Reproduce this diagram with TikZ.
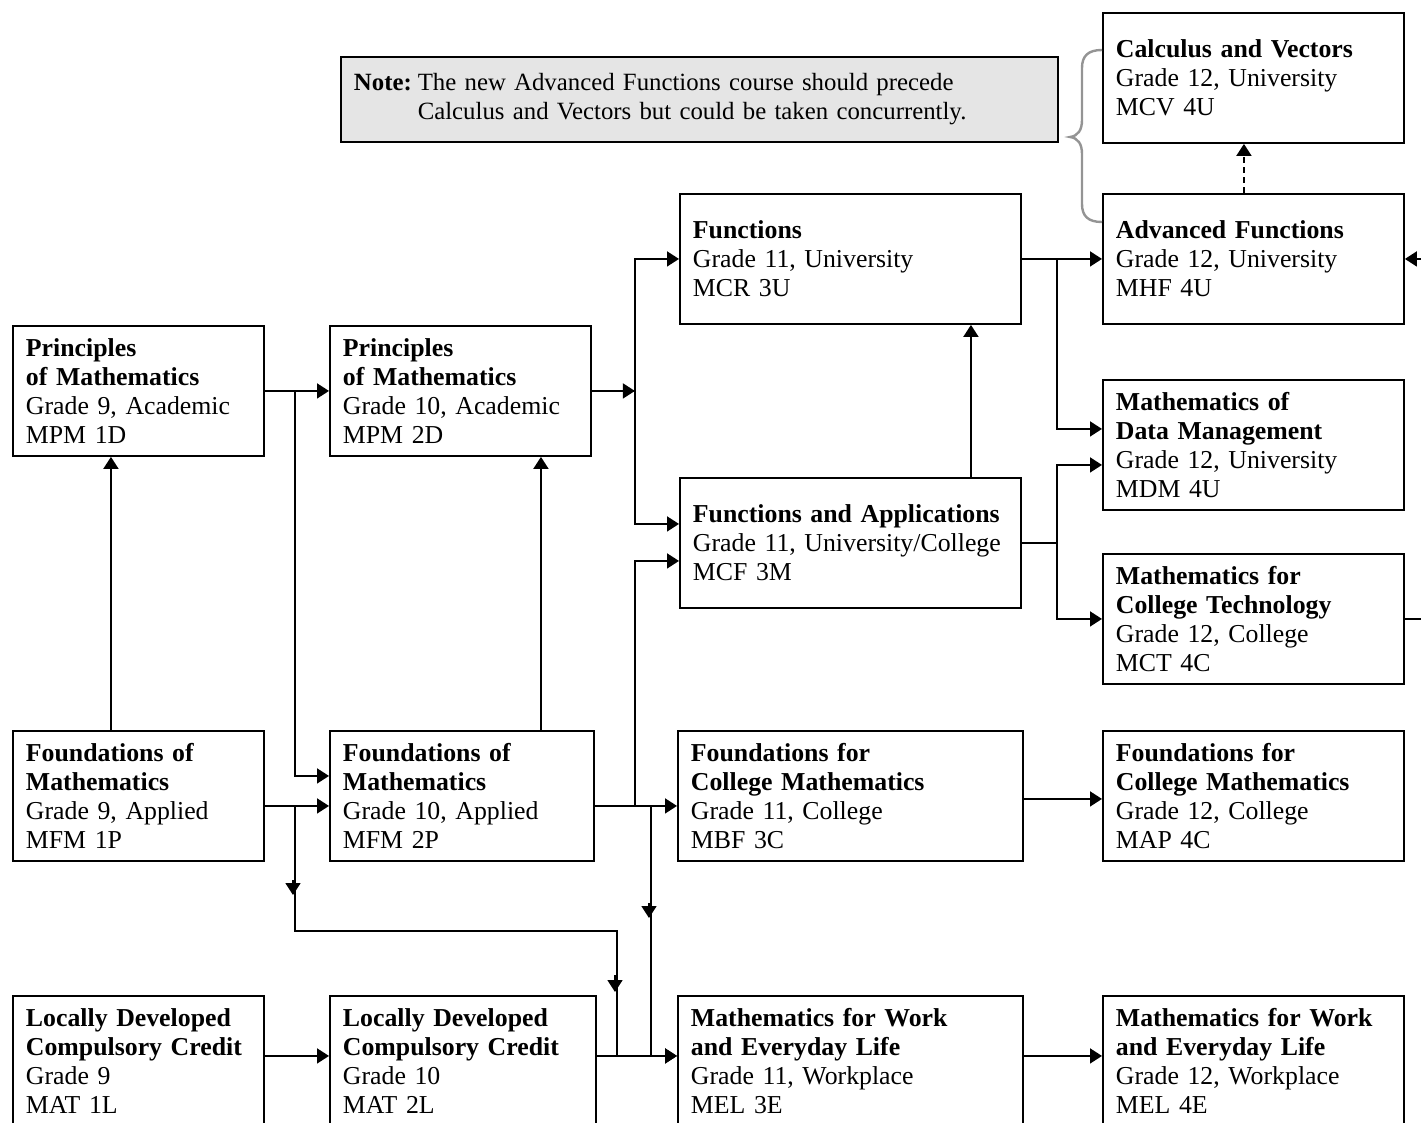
\documentclass[tikz,border=0pt]{standalone}
\usepackage{fontspec}
\setmainfont[WordSpace=0.8]{Liberation Serif}
\usetikzlibrary{arrows.meta,calc}
\begin{document}
\begin{tikzpicture}[x=0.5pt,y=-0.5pt,
  course/.style={draw, line width=0.95pt, anchor=north west, align=left,
    inner xsep=6.5pt, inner ysep=0pt, minimum height=65pt, text width=#1,
    font=\fontsize{12.9}{14.5}\selectfont},
  ln/.style={line width=0.85pt},
  arr/.style={line width=0.85pt, -{Triangle[length=6pt,width=7.5pt]}},
  bracestyle/.style={draw=black!42, line width=1.2pt}]
\useasboundingbox (0,0) rectangle (1421,1123);
\clip (0,0) rectangle (1421,1123);

% note
\node[draw, line width=0.95pt, fill=black!10, anchor=north west, minimum width=358.5pt,
  minimum height=42.5pt, inner xsep=6.5pt, align=left, text width=345.5pt,
  font=\fontsize{12.4}{14.5}\selectfont] (note) at (340,56)
  {\begin{tabular}{@{}l@{\hspace{3pt}}l@{}}\textbf{Note:} & The new Advanced Functions course should precede\\
   & Calculus and Vectors but could be taken concurrently.\end{tabular}};

% courses
\node[course=112.5pt] (mpm1d) at (12,325) {\textbf{Principles}\\\textbf{of Mathematics}\\Grade 9, Academic\\MPM 1D};
\node[course=117.5pt] (mpm2d) at (329,325) {\textbf{Principles}\\\textbf{of Mathematics}\\Grade 10, Academic\\MPM 2D};
\node[course=157.5pt] (mcr3u) at (679,193) {\textbf{Functions}\\Grade 11, University\\MCR 3U};
\node[course=157.5pt] (mcf3m) at (679,477) {\textbf{Functions and Applications}\\Grade 11, University/College\\MCF 3M};
\node[course=137.5pt] (mcv4u) at (1102,12) {\textbf{Calculus and Vectors}\\Grade 12, University\\MCV 4U};
\node[course=137.5pt] (mhf4u) at (1102,193) {\textbf{Advanced Functions}\\Grade 12, University\\MHF 4U};
\node[course=137.5pt] (mdm4u) at (1102,379) {\textbf{Mathematics of}\\\textbf{Data Management}\\Grade 12, University\\MDM 4U};
\node[course=137.5pt] (mct4c) at (1102,553) {\textbf{Mathematics for}\\\textbf{College Technology}\\Grade 12, College\\MCT 4C};
\node[course=112.5pt] (mfm1p) at (12,730) {\textbf{Foundations of}\\\textbf{Mathematics}\\Grade 9, Applied\\MFM 1P};
\node[course=119pt] (mfm2p) at (329,730) {\textbf{Foundations of}\\\textbf{Mathematics}\\Grade 10, Applied\\MFM 2P};
\node[course=159.5pt] (mbf3c) at (677,730) {\textbf{Foundations for}\\\textbf{College Mathematics}\\Grade 11, College\\MBF 3C};
\node[course=137.5pt] (map4c) at (1102,730) {\textbf{Foundations for}\\\textbf{College Mathematics}\\Grade 12, College\\MAP 4C};
\node[course=112.5pt] (mat1l) at (12,995) {\textbf{Locally Developed}\\\textbf{Compulsory Credit}\\Grade 9\\MAT 1L};
\node[course=120pt] (mat2l) at (329,995) {\textbf{Locally Developed}\\\textbf{Compulsory Credit}\\Grade 10\\MAT 2L};
\node[course=159.5pt] (mel3e) at (677,995) {\textbf{Mathematics for Work}\\\textbf{and Everyday Life}\\Grade 11, Workplace\\MEL 3E};
\node[course=137.5pt] (mel4e) at (1102,995) {\textbf{Mathematics for Work}\\\textbf{and Everyday Life}\\Grade 12, Workplace\\MEL 4E};

% brace
\draw[bracestyle] (1102,50) .. controls (1088,50) and (1082,56) .. (1082,68) -- (1082,120)
  .. controls (1082,130) and (1078,136) .. (1070,137)
  .. controls (1078,138) and (1082,144) .. (1082,154) -- (1082,204)
  .. controls (1082,216) and (1088,222) .. (1102,222);

% connectors
\draw[arr] (mpm1d.east) -- (mpm2d.west);
\draw[arr] (mpm1d.east) -- ++(30,0) |- ([yshift=10pt]mfm2p.west);
\draw[arr] ([yshift=-5pt]mfm1p.east) -- ([yshift=-5pt]mfm2p.west);
\draw[ln] ([yshift=-5pt]mfm1p.east) -- ++(30,0) -- ++(0,125) -| ([xshift=10pt,yshift=2.5pt]mat2l.east);
\draw[arr] (293,880) -- (293,895);
\draw[arr] (615,975) -- (615,992);

\draw[arr] ([yshift=-5pt]mfm2p.east) -- ([yshift=-5pt]mbf3c.west);
\draw[arr] ([yshift=-5pt]mfm2p.east) -- ++(40,0) |- ([yshift=-9pt]mcf3m.west);
\draw[arr] ([yshift=-5pt]mfm2p.east) -- ++(56,0) |- ([yshift=2.5pt]mel3e.west);
\draw[arr] (649,903) -- (649,918);
\draw[arr] ([yshift=2.5pt]mat2l.east) -- ([yshift=2.5pt]mel3e.west);
\draw[arr] ([yshift=2.5pt]mat1l.east) -- ([yshift=2.5pt]mat2l.west);

\draw[arr] (mpm2d.east) -- ++(43,0);
\draw[arr] (mpm2d.east) -- ++(43,0) |- (mcr3u.west);
\draw[arr] (mpm2d.east) -- ++(43,0) |- ([yshift=9.5pt]mcf3m.west);

\draw[arr] (mcr3u.east) -- (mhf4u.west);
\draw[arr] (mcr3u.east) -- ++(35,0) |- ([yshift=8pt]mdm4u.west);
\draw[arr] (mcf3m.east) -- ++(35,0) |- ([yshift=-10pt]mdm4u.west);
\draw[arr] (mcf3m.east) -- ++(35,0) |- (mct4c.west);

\coordinate (u1) at ([xshift=-13.75pt]mfm1p.north);
\draw[arr] (u1) -- (u1 |- mpm1d.south);
\coordinate (u2) at ([xshift=39.5pt]mfm2p.north);
\draw[arr] (u2) -- (u2 |- mpm2d.south);
\coordinate (u3) at ([xshift=60.25pt]mcf3m.north);
\draw[arr] (u3) -- (u3 |- mcr3u.south);
\draw[arr, dash pattern=on 3pt off 2pt] ([xshift=-4.75pt]mhf4u.north) -- ([xshift=-4.75pt]mcv4u.south);

\draw[arr] ([yshift=-1.5pt]mbf3c.east) -- ([yshift=-1.5pt]map4c.west);
\draw[arr] ([yshift=2.5pt]mel3e.east) -- ([yshift=2.5pt]mel4e.west);
\draw[arr] (mct4c.east) -- ++(40,0) |- (mhf4u.east);
\end{tikzpicture}
\end{document}
